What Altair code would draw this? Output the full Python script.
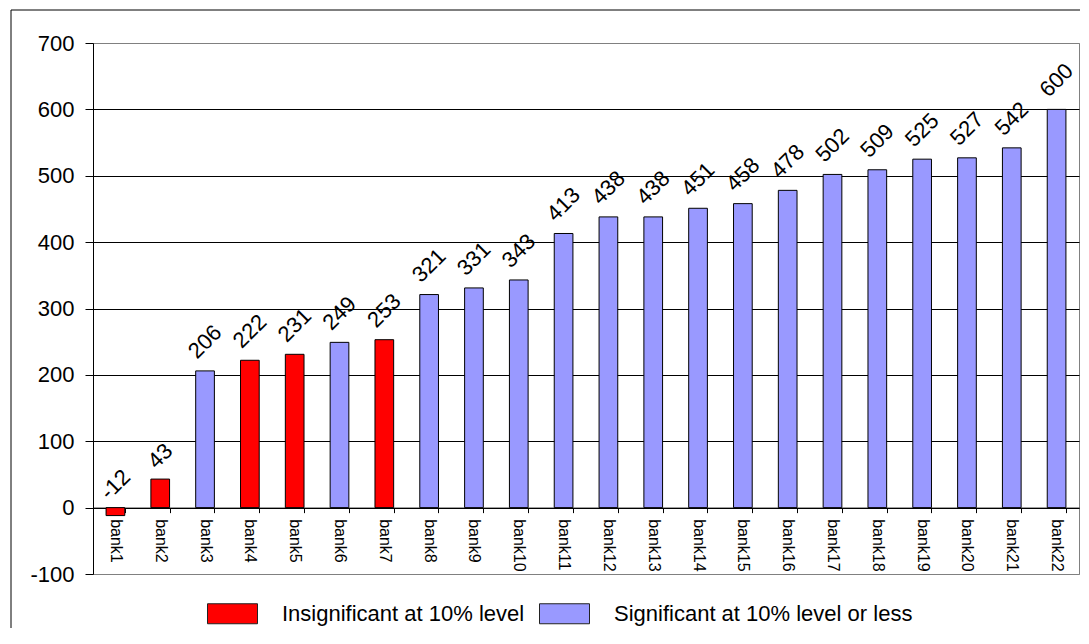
import altair as alt
import pandas as pd

banks = [f"bank{i}" for i in range(1, 23)]
values = [-12, 43, 206, 222, 231, 249, 253, 321, 331, 343, 413, 438, 438,
          451, 458, 478, 502, 509, 525, 527, 542, 600]
groups = ["I", "I", "S", "I", "I", "S", "I"] + ["S"] * 15
legend_labels = ["Insignificant at 10% level", "Significant at 10% level or less"]
colors = ["#FF0000", "#9999FF"]
y_ticks = list(range(-100, 800, 100))

df = pd.DataFrame({
    "bank": banks,
    "value": values,
    "group": [legend_labels[0] if g == "I" else legend_labels[1] for g in groups],
})

W, H = 986, 531
FONT = "Liberation Sans"
ymin, ymax = -100, 700
zero_offset = -H * (0 - ymin) / (ymax - ymin)

base = alt.Chart(df).transform_calculate(
    label="toString(datum.value)", ytop="max(datum.value, 0)"
)

x_enc = alt.X(
    "bank:N", sort=banks, title=None,
    scale=alt.Scale(paddingInner=0.583, paddingOuter=0.2915),
    axis=alt.Axis(
        offset=zero_offset, labelAngle=90, labelAlign="left", labelBaseline="middle",
        labelFontSize=16, labelFont=FONT, labelColor="black", labelPadding=6,
        tickSize=5, tickColor="black", tickBand="extent", domainColor="black",
        grid=False,
    ),
)
y_enc = alt.Y(
    "value:Q", title=None,
    scale=alt.Scale(domain=[ymin, ymax], nice=False),
    axis=alt.Axis(
        values=y_ticks, labelExpr="toString(datum.value)",
        labelFontSize=22, labelFont=FONT, labelColor="black",
        labelPadding=11, tickSize=8, tickColor="black", domainColor="black",
        gridColor={"condition": {"test": "datum.value == 700 || datum.value == -100",
                                 "value": "#808080"}, "value": "#000000"},
        gridOpacity=1,
    ),
)

bars = base.mark_bar(stroke="black", strokeWidth=1).encode(
    x=x_enc,
    y=y_enc,
    color=alt.Color(
        "group:N", title=None,
        scale=alt.Scale(domain=legend_labels, range=colors),
        legend=alt.Legend(
            orient="none", legendX=114, legendY=545, direction="horizontal",
            symbolType="M-1,-0.4H1V0.4H-1Z", symbolSize=2500,
            symbolStrokeColor="#222222", symbolStrokeWidth=1, symbolOpacity=1,
            labelFontSize=22, labelFont=FONT, labelColor="black",
            labelOffset=24, columnPadding=12, padding=0, labelLimit=500,
        ),
    ),
)

labels_hi = base.transform_filter("datum.value >= 100").mark_text(
    angle=315, align="center", baseline="middle", fontSize=22, font=FONT,
    color="black", radius=29, theta=0,
).encode(
    x=alt.X("bank:N", sort=banks),
    y=alt.Y("value:Q"),
    text=alt.Text("label:N"),
)

labels_lo = base.transform_filter("datum.value < 100").mark_text(
    angle=315, align="center", baseline="middle", fontSize=22, font=FONT,
    color="black", radius=23, theta=0,
).encode(
    x=alt.X("bank:N", sort=banks),
    y=alt.Y("ytop:Q"),
    text=alt.Text("label:N"),
)

border = alt.Chart(alt.Data(values=[{"a": 1}])).mark_rect(
    filled=False, stroke="black", strokeWidth=1
).encode(
    x=alt.value(-82), x2=alt.value(1100), y=alt.value(-33), y2=alt.value(700)
)

chart = alt.layer(bars, labels_hi, labels_lo, border).properties(
    width=W, height=H,
    autosize=alt.AutoSizeParams(type="none"),
    padding={"left": 85, "top": 35, "right": 1, "bottom": 54},
    background="white",
).configure_view(stroke="#808080", strokeWidth=1)

chart.save("out.html", embed_options={"renderer": "svg", "actions": False})
